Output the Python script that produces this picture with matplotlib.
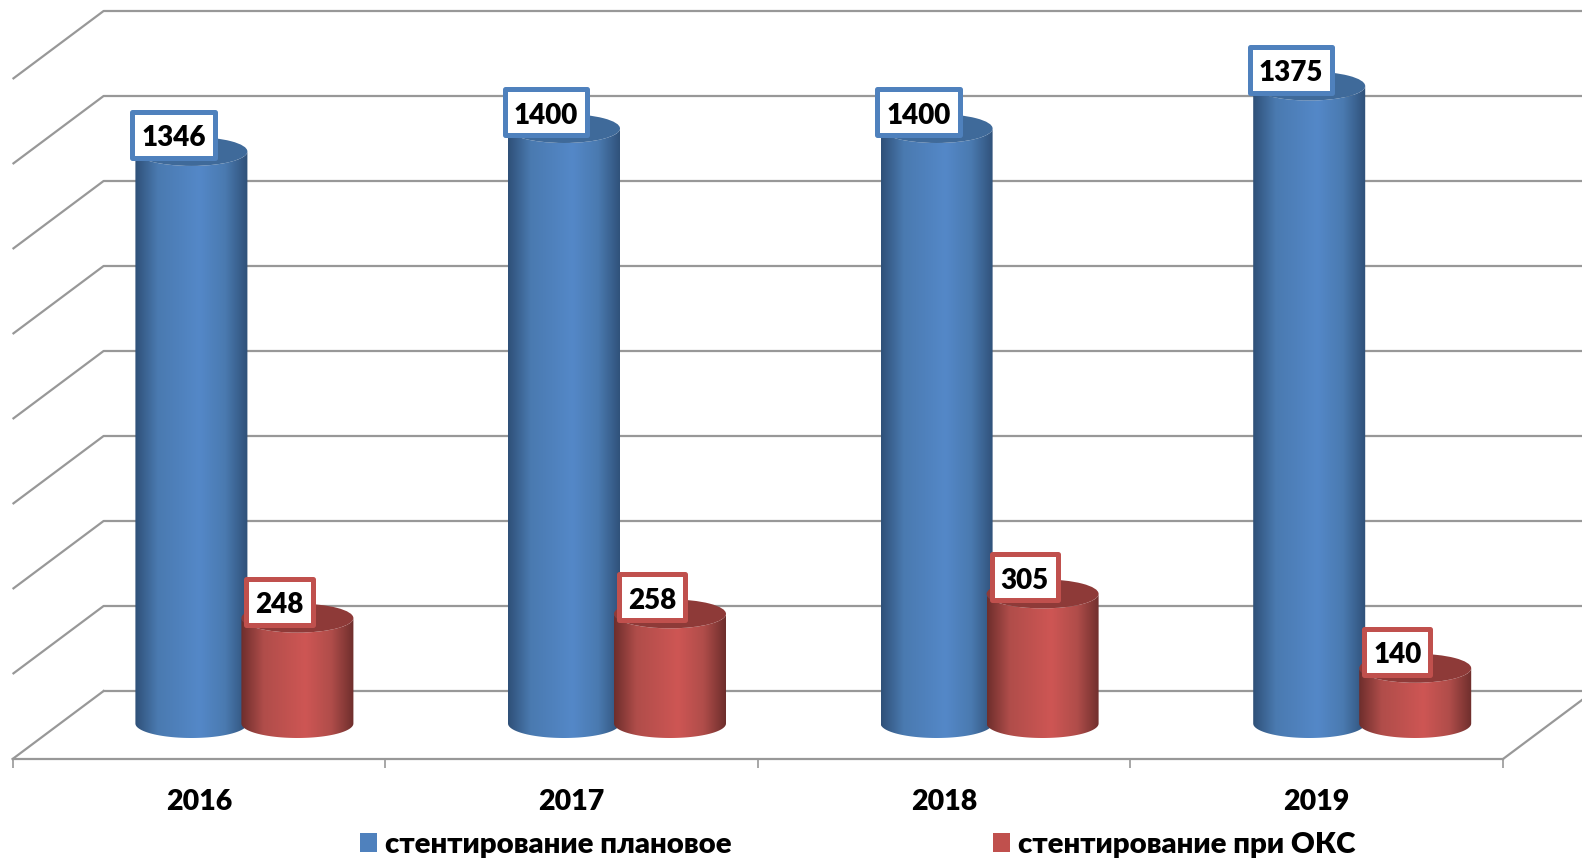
import numpy as np
import matplotlib
matplotlib.use("Agg")
import matplotlib.pyplot as plt
from matplotlib.colors import LinearSegmentedColormap
from matplotlib.patches import Ellipse, PathPatch, Patch
from matplotlib.path import Path

years = ["2016", "2017", "2018", "2019"]
# printed data labels
planned_labels = [1346, 1400, 1400, 1375]
acs_labels = [248, 258, 305, 140]
# drawn heights (the 2019 bars differ from their labels)
planned_heights = [1346, 1400, 1400, 1500]
acs_heights = [248, 258, 305, 130]
series_names = ["стентирование плановое", "стентирование при ОКС"]
grid_values = [200, 400, 600, 800, 1000, 1200, 1400, 1600]

plt.rcParams["font.family"] = ["Lato", "Open Sans", "DejaVu Sans"]
W, H = 1582, 859
fig = plt.figure(figsize=(W / 100, H / 100), dpi=100, facecolor="white")
L, R, T, B = 12.6, 1503, 79, 759
ax = fig.add_axes([L / W, 1 - B / H, (R - L) / W, (B - T) / H])
ax.set_xlim(0, 4)
ax.set_ylim(0, 1600)
ax.patch.set_visible(False)

px_x = 4 / (R - L)
px_y = 1600 / (B - T)
DX, DY = 91 * px_x, 68 * px_y
GRID = "#989898"
WEIGHT = 800

for v in grid_values:
    ax.plot([0, DX, 4 + DX + 1], [v, v + DY, v + DY], color=GRID, lw=1.6,
            clip_on=False, zorder=1, solid_joinstyle="round", solid_capstyle="butt")
ax.plot([0, DX], [0, DY], color=GRID, lw=1.6, clip_on=False, zorder=1)
ax.plot([DX, 4 + DX + 1], [DY, DY], color=GRID, lw=1.6, clip_on=False, zorder=1)
ax.plot([4, 4 + DX], [0, DY], color=GRID, lw=1.6, clip_on=False, zorder=1)

for s in ["top", "left", "right"]:
    ax.spines[s].set_visible(False)
ax.spines["bottom"].set_color(GRID)
ax.spines["bottom"].set_linewidth(1.6)
ax.set_yticks([])
ax.set_xticks(range(5))
ax.set_xticklabels([])
ax.set_xticks(np.arange(4) + 0.5, labels=years, minor=True)
ax.tick_params(axis="x", which="major", length=6.5, width=1.2, color=GRID)
ax.tick_params(axis="x", which="minor", length=0, pad=21.5, labelsize=20.5)
for t in ax.get_xticklabels(minor=True):
    t.set_fontweight(WEIGHT)

BW = 112 * px_x
RY = 14.5 * px_y
OFF = 53 * px_x
depth_x = 0.5
base_level = 35.5 * px_y


def gradient(dark, mid, light):
    return LinearSegmentedColormap.from_list(
        "g", [(0, dark), (0.2, mid), (0.57, light), (0.8, mid), (1, dark)])


def cylinder(xc, value, cmap, top_col, z):
    x0, x1 = xc - BW / 2, xc + BW / 2
    base = base_level
    top = value + base
    t = np.linspace(np.pi, 2 * np.pi, 60)
    bx = xc + BW / 2 * np.cos(t)
    by = base + RY * np.sin(t)
    tx = xc + BW / 2 * np.cos(t[::-1])
    ty = top + RY * np.sin(t[::-1])
    verts = np.column_stack([np.r_[bx, tx], np.r_[by, ty]])
    clip = PathPatch(Path(np.vstack([verts, verts[0]]), closed=True),
                     transform=ax.transData, fc="none", ec="none")
    ax.add_patch(clip)
    clip.set_clip_on(False)
    im = ax.imshow(np.linspace(0, 1, 256)[None, :], cmap=cmap, aspect="auto",
                   extent=(x0, x1, base - RY, top + RY), interpolation="bilinear",
                   zorder=z)
    im.set_clip_path(clip)
    ax.add_patch(Ellipse((xc, top), BW, 2 * RY, fc=top_col, ec="none", zorder=z + 0.1,
                         clip_on=False))
    return top


blue_map = gradient("#2F5078", "#4A7AB0", "#5488C8")
red_map = gradient("#6E2E2C", "#B04D4A", "#CE5654")


def label_box(x0, y0, width, height, mutation_size):
    px, py, shift = 9.0, 10.0, 3.4
    yb, yt = y0 - py + shift, y0 + height + py + shift
    return Path([(x0 - px, yb), (x0 + width + px, yb),
                 (x0 + width + px, yt), (x0 - px, yt),
                 (x0 - px, yb)], closed=True)


def label(xc, top, value, edge, z):
    ax.annotate(str(value), (xc, top), xytext=(-18 * 0.72, 13 * 0.72),
                textcoords="offset points", ha="center", va="center",
                fontsize=20, fontweight=WEIGHT, color="black", zorder=z,
                annotation_clip=False,
                bbox=dict(boxstyle=label_box, fc="white", ec=edge, lw=3.6,
                          joinstyle="round"))


for i in range(len(years)):
    cx = i + 0.5 + depth_x * DX
    tb = cylinder(cx - OFF, planned_heights[i], blue_map, "#3F6A9A", 3)
    tr = cylinder(cx + OFF, acs_heights[i], red_map, "#8E3A38", 4)
    label(cx - OFF, tb, planned_labels[i], "#4F81BD", 6)
    label(cx + OFF, tr, acs_labels[i], "#C0504D", 6)

ax.set_xlim(0, 4)
ax.set_ylim(0, 1600)

handles = [Patch(fc="#4F81BD", ec="none"), Patch(fc="#C0504D", ec="none")]
leg = fig.legend(handles, series_names, ncol=2, frameon=False,
                 loc="center", bbox_to_anchor=(857.7 / W, 1 - 845 / H),
                 bbox_transform=fig.transFigure,
                 prop={"size": 21.2, "weight": WEIGHT},
                 handlelength=0.6, handleheight=0.6, handletextpad=0.27,
                 columnspacing=8.85, borderpad=0, borderaxespad=0)
fig.savefig("out.png", dpi=100)
